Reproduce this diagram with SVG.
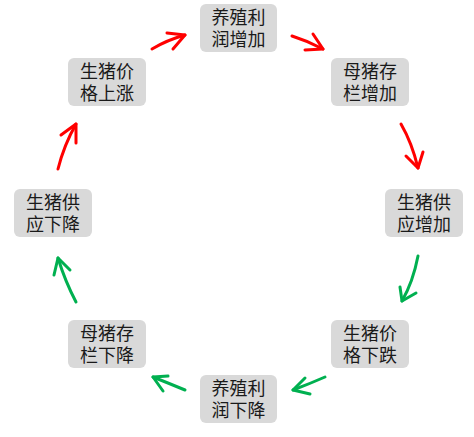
<svg xmlns="http://www.w3.org/2000/svg" width="474" height="437" viewBox="0 0 474 437">
<style>
.box{fill:#d9d9d9;}
.lbl{font-family:"Liberation Serif","Noto Sans CJK SC",serif;font-size:18px;fill:#1a1a1a;text-anchor:middle;}
.red{fill:none;stroke:#ff0000;stroke-width:3;stroke-linecap:round;stroke-linejoin:round;}
.green{fill:none;stroke:#00b050;stroke-width:3;stroke-linecap:round;stroke-linejoin:round;}
</style>
<rect width="474" height="437" fill="#ffffff"/>
<g id="n1"><rect class="box" x="200" y="4" width="77" height="48" rx="6"/><text class="lbl" x="238.5" y="24">养殖利<tspan x="238.5" dy="21.5">润增加</tspan></text></g>
<g id="n2"><rect class="box" x="331" y="58" width="78" height="48" rx="6"/><text class="lbl" x="370" y="78">母猪存<tspan x="370" dy="21.5">栏增加</tspan></text></g>
<g id="n3"><rect class="box" x="385" y="189" width="78" height="48" rx="6"/><text class="lbl" x="424" y="209">生猪供<tspan x="424" dy="21.5">应增加</tspan></text></g>
<g id="n4"><rect class="box" x="331" y="320" width="78" height="48" rx="6"/><text class="lbl" x="370" y="340">生猪价<tspan x="370" dy="21.5">格下跌</tspan></text></g>
<g id="n5"><rect class="box" x="200" y="375" width="77" height="48" rx="6"/><text class="lbl" x="238.5" y="395">养殖利<tspan x="238.5" dy="21.5">润下降</tspan></text></g>
<g id="n6"><rect class="box" x="68" y="320" width="78" height="48" rx="6"/><text class="lbl" x="107" y="340">母猪存<tspan x="107" dy="21.5">栏下降</tspan></text></g>
<g id="n7"><rect class="box" x="14" y="189" width="78" height="48" rx="6"/><text class="lbl" x="53" y="209">生猪供<tspan x="53" dy="21.5">应下降</tspan></text></g>
<g id="n8"><rect class="box" x="68" y="58" width="78" height="48" rx="6"/><text class="lbl" x="107" y="78">生猪价<tspan x="107" dy="21.5">格上涨</tspan></text></g>
<g id="connectors">
<path class="red" d="M152 49 Q167 40 185 35"/><polyline class="red" points="167,33 185,35 173,49"/>
<path class="red" d="M292 36 Q308 41 323 49"/><polyline class="red" points="313,34 323,49 305,50"/>
<path class="red" d="M401 124 Q412 143 418 168"/><polyline class="red" points="406,156 418,168 423,152"/>
<path class="green" d="M418 256 Q413 282 402 301"/><polyline class="green" points="400,287 402,301 416,293"/>
<path class="green" d="M325 377 Q309 384 293 390"/><polyline class="green" points="305,378 293,390 310,394"/>
<path class="green" d="M185 390 Q168 383 153 377"/><polyline class="green" points="168,376 153,377 163,391"/>
<path class="green" d="M76 302 Q65 281 58 258"/><polyline class="green" points="54,275 58,258 70,270"/>
<path class="red" d="M58 169 Q64 145 76 124"/><polyline class="red" points="61,135 76,124 76,143"/>
</g>
</svg>
